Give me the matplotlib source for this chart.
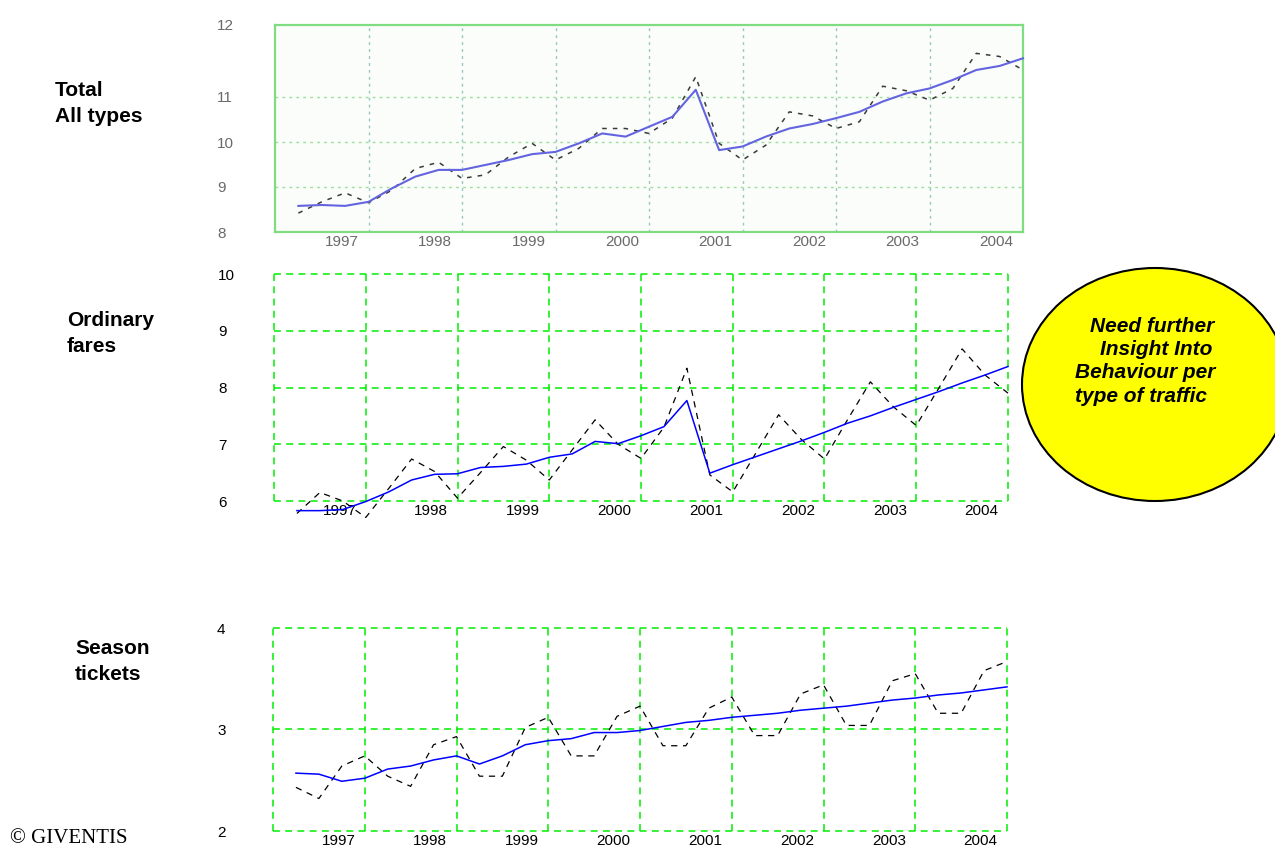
import numpy as np
import matplotlib
matplotlib.use("Agg")
import matplotlib.pyplot as plt
from matplotlib.patches import Ellipse

# ---------------- data (quarterly, 32 quarters) ----------------
quarters = np.arange(32)
years = ['1997', '1998', '1999', '2000', '2001', '2002', '2003', '2004']

total_trend = [8.58, 8.60, 8.58, 8.67, 8.97, 9.23, 9.38, 9.38, 9.49, 9.60, 9.73, 9.78,
               9.97, 10.19, 10.12, 10.34, 10.56, 11.16, 9.82, 9.90, 10.12, 10.30, 10.40, 10.53,
               10.67, 10.90, 11.08, 11.19, 11.38, 11.60, 11.69, 11.86]
total_actual = [8.42, 8.67, 8.87, 8.65, 8.93, 9.41, 9.55, 9.19, 9.27, 9.67, 9.97, 9.60,
                9.86, 10.30, 10.30, 10.19, 10.53, 11.45, 9.97, 9.60, 9.93, 10.67, 10.58, 10.30,
                10.45, 11.24, 11.14, 10.93, 11.19, 11.97, 11.90, 11.60]

ordinary_trend = [5.83, 5.83, 5.85, 5.99, 6.16, 6.37, 6.47, 6.48, 6.59, 6.61, 6.65, 6.77,
                  6.83, 7.05, 7.01, 7.15, 7.31, 7.77, 6.49, 6.64, 6.78, 6.92, 7.06, 7.21,
                  7.37, 7.50, 7.65, 7.79, 7.93, 8.08, 8.22, 8.37]
ordinary_actual = [5.78, 6.15, 6.00, 5.71, 6.22, 6.74, 6.52, 6.05, 6.50, 6.96, 6.72, 6.37,
                   6.90, 7.43, 7.00, 6.75, 7.30, 8.34, 6.46, 6.16, 6.84, 7.52, 7.08, 6.74,
                   7.43, 8.10, 7.66, 7.33, 8.00, 8.68, 8.22, 7.90]

season_trend = [2.57, 2.56, 2.49, 2.52, 2.61, 2.64, 2.70, 2.74, 2.66, 2.74, 2.85, 2.89,
                2.91, 2.97, 2.97, 2.99, 3.03, 3.07, 3.09, 3.12, 3.14, 3.16, 3.19, 3.21,
                3.23, 3.26, 3.29, 3.31, 3.34, 3.36, 3.39, 3.42]
season_actual = [2.43, 2.32, 2.64, 2.74, 2.54, 2.44, 2.85, 2.93, 2.54, 2.54, 3.02, 3.12,
                 2.74, 2.74, 3.13, 3.23, 2.84, 2.84, 3.21, 3.32, 2.94, 2.94, 3.35, 3.44,
                 3.04, 3.04, 3.48, 3.55, 3.16, 3.16, 3.58, 3.67]

row_labels = [("Total", "All types"), ("Ordinary", "fares"), ("Season", "tickets")]
bubble_lines = ["Need further", "Insight Into", "Behaviour per", "type of traffic"]
copyright_text = "\u00a9 GIVENTIS"

# ---------------- figure ----------------
W, H = 1275, 846
fig = plt.figure(figsize=(W / 100, H / 100), dpi=100)
fig.patch.set_facecolor('white')

def rect(left, top, right, bottom):
    return [left / W, 1 - bottom / H, (right - left) / W, (bottom - top) / H]

TICKFONT = ['Liberation Sans Narrow', 'Liberation Sans']
year_pos = [4 * i + 1.85 for i in range(len(years))]
grid_pos = [4 * i - 1 for i in range(9)]


def style_axes(ax, ylim, yticks, ylabels, ypad, labelcolor):
    ax.set_xlim(-1, 31)
    ax.set_ylim(*ylim)
    ax.set_xticks(year_pos)
    ax.set_xticklabels(years)
    ax.set_xticks(grid_pos, minor=True)
    ax.set_yticks(yticks)
    ax.set_yticklabels(ylabels)
    ax.tick_params(axis='x', which='both', length=0, pad=2.0, labelsize=11,
                   labelcolor=labelcolor)
    ax.tick_params(axis='y', which='both', length=0, pad=ypad, labelsize=11,
                   labelcolor=labelcolor)
    for lbl in ax.get_yticklabels():
        lbl.set_horizontalalignment('left')
        lbl.set_family(TICKFONT)
    for lbl in ax.get_xticklabels():
        lbl.set_family(TICKFONT)


# ---- top chart: Total ----
ax1 = fig.add_axes(rect(275, 25, 1023, 232))
ax1.set_facecolor('#fafdfa')
style_axes(ax1, (8, 12.6), [8, 9, 10, 11, 12.6], ['8', '9', '10', '11', '12'], 41.5,
           '#6a6a6a')
for s in ax1.spines.values():
    s.set_color('#80dc80')
    s.set_linewidth(1.6)
for yv in [9, 10, 11]:
    ax1.axhline(yv, color='#9ddf9d', lw=1.0, ls=(0, (2, 3)), zorder=1)
for xv in grid_pos[1:-1]:
    ax1.axvline(xv, color='#9cc4c4', lw=1.0, ls=(0, (2, 3)), zorder=1)
ax1.plot(quarters, total_actual, color='#3a3a3a', lw=1.1, ls=(0, (3, 4)), zorder=3,
         clip_on=False)
ax1.plot(quarters, total_trend, color='#6464e0', lw=1.5, zorder=4, clip_on=False)

# ---- middle and bottom charts ----
def dashed_grid_axes(r, ylim, yticks, ypad):
    ax = fig.add_axes(r)
    style_axes(ax, ylim, yticks, [str(v) for v in yticks], ypad, '#000000')
    for s in ax.spines.values():
        s.set_visible(False)
    ax.grid(False)
    for yv in yticks:
        ax.axhline(yv, color='#00ee00', lw=1.1, ls=(0, (4.5, 3.5)), zorder=1, clip_on=False)
    for xv in grid_pos:
        ax.axvline(xv, color='#00ee00', lw=1.1, ls=(0, (4.5, 3.5)), zorder=1, clip_on=False)
    return ax

ax2 = dashed_grid_axes(rect(274, 274, 1008, 501), (6, 10), [6, 7, 8, 9, 10], 40.3)
ax2.plot(quarters, ordinary_actual, color='#000000', lw=0.9, ls=(0, (5, 4.5)), zorder=3,
         clip_on=False)
ax2.plot(quarters, ordinary_trend, color='#0000ff', lw=1.1, zorder=4, clip_on=False)

ax3 = dashed_grid_axes(rect(273, 628, 1007, 831), (2, 4), [2, 3, 4], 40.3)
ax3.plot(quarters, season_actual, color='#000000', lw=0.9, ls=(0, (5, 4.5)), zorder=3,
         clip_on=False)
ax3.plot(quarters, season_trend, color='#0000ff', lw=1.1, zorder=4, clip_on=False)

# ---------------- annotations ----------------
def ftext(x, y, s, **kw):
    fig.text(x / W, 1 - y / H, s, va='baseline', ha='left', **kw)

label_pos = [(55, 96, 122), (67, 326, 352), (75, 654, 680)]
for (l1, l2), (x, y1, y2) in zip(row_labels, label_pos):
    ftext(x, y1, l1, fontsize=15, fontweight='bold', family='Liberation Sans')
    ftext(x, y2, l2, fontsize=15, fontweight='bold', family='Liberation Sans')

ell = Ellipse((1155 / W, 1 - 384.5 / H), 266 / W, 233 / H, transform=fig.transFigure,
              facecolor='#ffff00', edgecolor='black', lw=1.5, zorder=5)
fig.add_artist(ell)
bubble_x = [1090, 1100, 1075, 1075]
bubble_y = [332, 355, 378, 402]
for s, x, y in zip(bubble_lines, bubble_x, bubble_y):
    fig.text(x / W, 1 - y / H, s, va='baseline', ha='left', fontsize=15,
             fontweight='bold', fontstyle='italic', family='Liberation Sans', zorder=6)

ftext(10, 843, copyright_text, fontsize=15, family='Liberation Serif')

fig.savefig('out.png', dpi=100)
